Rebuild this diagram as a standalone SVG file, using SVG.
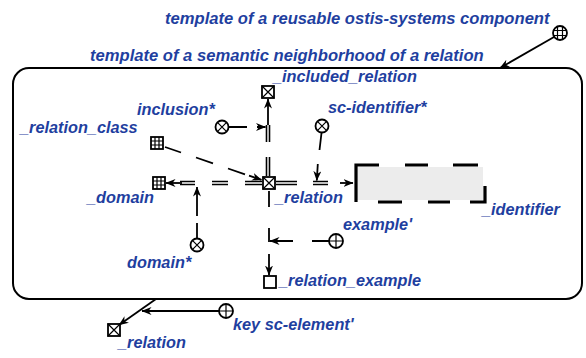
<svg xmlns="http://www.w3.org/2000/svg" width="586" height="358" viewBox="0 0 586 358">
<defs>
<marker id="ah" viewBox="0 0 10 8" refX="9.5" refY="4" markerWidth="10" markerHeight="8" markerUnits="userSpaceOnUse" orient="auto">
<path d="M0,0 L10,4 L0,8 L3,4 z" fill="#000"/>
</marker>
</defs>
<style>
text{font-family:"Liberation Sans",Arial,sans-serif;font-weight:bold;font-style:italic;font-size:16.3px;fill:#1f3f9f}
.title{font-size:16.6px}
.n{fill:#fff;stroke:#000;stroke-width:1.8}
.nl{stroke:#000;stroke-width:1.2;fill:none}
.ln{stroke:#000;stroke-width:1.8;fill:none}
.dk{stroke:#000;stroke-width:4.6;fill:none}
.dw{stroke:#fff;stroke-width:1.4;fill:none}
.frame{fill:none;stroke:#000;stroke-width:2}
</style>

<g id="frame">
<rect class="frame" x="13" y="68" width="569" height="231" rx="16" ry="16"/>
</g>

<g id="connectors">
<line class="ln" x1="554" y1="37" x2="500" y2="68" marker-end="url(#ah)"/>
<line class="ln" x1="156" y1="299" x2="119" y2="325" marker-end="url(#ah)"/>
<line class="ln" x1="219" y1="311" x2="142" y2="311" marker-end="url(#ah)"/>

<path class="dk" d="M268,176 V157 M268,142 V125"/>
<path class="dw" d="M268,176 V157 M268,142 V125"/>
<line class="ln" x1="268" y1="125" x2="268" y2="99" marker-end="url(#ah)"/>
<path class="ln" d="M229,127 H247 M257,127 H265.5" marker-end="url(#ah)"/>

<path class="dk" d="M276,183 H297 M313,183 H328"/>
<path class="dw" d="M276,183 H297 M313,183 H328"/>
<line class="ln" x1="340" y1="183" x2="353" y2="183" marker-end="url(#ah)"/>
<path class="ln" d="M321.5,133 L319.5,150 M317.8,164 L316.8,180.5" marker-end="url(#ah)"/>

<path class="ln" d="M165,147 L181,152.5 M196,157.5 L213,163.3 M228,168.5 L245,174.3 M249,175.6 L261.5,179.8" marker-end="url(#ah)"/>

<path class="dk" d="M262,183 H245 M228,183 H212 M195,183 H180"/>
<path class="dw" d="M262,183 H245 M228,183 H212 M195,183 H180"/>
<line class="ln" x1="182" y1="183" x2="166" y2="183" marker-end="url(#ah)"/>
<path class="ln" d="M197,238 V223 M197,216 V187" marker-end="url(#ah)"/>

<path class="ln" d="M269,191 V207 M269,228 V242 M269,254 V275" marker-end="url(#ah)"/>
<path class="ln" d="M329,241 H312 M293,241 H270" marker-end="url(#ah)"/>
</g>

<g id="t_component">
<text class="title" x="165" y="24">template of a reusable ostis-systems component</text>
<circle class="n" cx="560" cy="33" r="7"/>
<path class="nl" d="M557.5,26.5 V39.5 M562.5,26.5 V39.5 M553.5,30.5 H566.5 M553.5,35.5 H566.5"/>
</g>

<g id="t_neighborhood">
<text class="title" x="90" y="61">template of a semantic neighborhood of a relation</text>
</g>

<g id="included_relation">
<rect class="n" x="262" y="86" width="12" height="12"/>
<path class="nl" d="M262,86 L274,98 M274,86 L262,98"/>
<text x="273" y="82">_included_relation</text>
</g>

<g id="inclusion">
<circle class="n" cx="222" cy="127" r="6.5"/>
<path class="nl" d="M217.4,122.4 L226.6,131.6 M226.6,122.4 L217.4,131.6"/>
<text x="137" y="115">inclusion*</text>
</g>

<g id="sc_identifier">
<circle class="n" cx="322" cy="126" r="6.5"/>
<path class="nl" d="M317.4,121.4 L326.6,130.6 M326.6,121.4 L317.4,130.6"/>
<text x="328" y="113">sc-identifier*</text>
</g>

<g id="relation_class">
<rect class="n" x="151" y="137" width="12" height="12"/>
<path class="nl" d="M155,137 V149 M159,137 V149 M151,141 H163 M151,145 H163"/>
<text x="20" y="133">_relation_class</text>
</g>

<g id="domain">
<rect class="n" x="153" y="177" width="12" height="12"/>
<path class="nl" d="M157,177 V189 M161,177 V189 M153,181 H165 M153,185 H165"/>
<text x="87" y="203">_domain</text>
</g>

<g id="relation">
<rect class="n" x="263" y="177" width="12" height="12"/>
<path class="nl" d="M263,177 L275,189 M275,177 L263,189"/>
<text x="275" y="203">_relation</text>
</g>

<g id="identifier">
<rect x="356" y="167" width="127" height="33" fill="#ececec"/>
<path d="M379,165 H356 V202 M405,165 H428 M453,165 H478 M485,186 V202 H470 M450,202 H428 M402,202 H378" fill="none" stroke="#000" stroke-width="3.2"/>
<text x="482" y="215">_identifier</text>
</g>

<g id="domain_role">
<circle class="n" cx="197" cy="245" r="6.5"/>
<path class="nl" d="M192.4,240.4 L201.6,249.6 M201.6,240.4 L192.4,249.6"/>
<text x="127" y="268">domain*</text>
</g>

<g id="example">
<circle class="n" cx="336" cy="241" r="7"/>
<path class="nl" d="M336,234 V248 M329,241 H343"/>
<text x="343" y="230">example'</text>
</g>

<g id="relation_example">
<rect class="n" x="264" y="276" width="12" height="12"/>
<text x="279" y="286">_relation_example</text>
</g>

<g id="key_sc_element">
<circle class="n" cx="226" cy="311" r="7"/>
<path class="nl" d="M226,304 V318 M219,311 H233"/>
<text x="233" y="330">key sc-element'</text>
</g>

<g id="relation_outer">
<rect class="n" x="108" y="324" width="12" height="12"/>
<path class="nl" d="M108,324 L120,336 M120,324 L108,336"/>
<text x="118" y="348">_relation</text>
</g>
</svg>
